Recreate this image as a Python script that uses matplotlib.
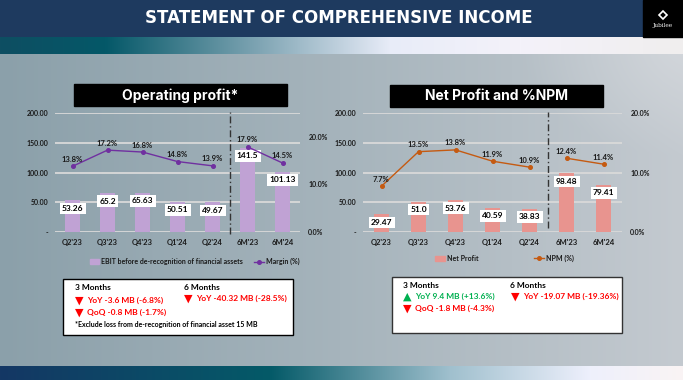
import numpy as np
import matplotlib
matplotlib.use('Agg')
import matplotlib.pyplot as plt
from matplotlib.patches import Rectangle, Patch
from matplotlib.lines import Line2D
from matplotlib.ticker import FuncFormatter

# ---------------- data ----------------
categories = ["Q2'23", "Q3'23", "Q4'23", "Q1'24", "Q2'24", "6M'23", "6M'24"]
ebit = [53.26, 65.2, 65.63, 50.51, 49.67, 141.5, 101.13]
ebit_labels = ["53.26", "65.2", "65.63", "50.51", "49.67", "141.5", "101.13"]
margin = [13.8, 17.2, 16.8, 14.8, 13.9, 17.9, 14.5]
net_profit = [29.47, 51.0, 53.76, 40.59, 38.83, 98.48, 79.41]
np_labels = ["29.47", "51.0", "53.76", "40.59", "38.83", "98.48", "79.41"]
npm = [7.7, 13.5, 13.8, 11.9, 10.9, 12.4, 11.4]
value_ticks = [0, 50, 100, 150, 200]
pct_ticks = [0, 10, 20]

left_notes_3m = ["YoY -3.6 MB (-6.8%)", "QoQ -0.8 MB (-1.7%)"]
left_notes_6m = ["YoY -40.32 MB (-28.5%)"]
right_notes_3m = ["YoY 9.4 MB (+13.6%)", "QoQ -1.8 MB (-4.3%)"]
right_notes_6m = ["YoY -19.07 MB (-19.36%)"]

plt.rcParams['font.family'] = ['Lato', 'DejaVu Sans']

W, H = 683, 380
fig = plt.figure(figsize=(W / 100, H / 100), dpi=100)

# ---------------- background ----------------
def hgrad(stops):
    xs = np.arange(W)
    pos = [s[0] for s in stops]
    out = np.zeros((W, 3))
    for c in range(3):
        out[:, c] = np.interp(xs, pos, [s[1][c] for s in stops])
    return out / 255.0

img = np.zeros((H, W, 3))
main = hgrad([(0, (139, 160, 170)), (340, (166, 180, 188)), (683, (196, 202, 208))])
img[:, :] = main
yy, xx = np.mgrid[0:H, 0:W]
glow = np.clip(1 - np.hypot((xx - 683) / 160.0, (yy - 45) / 110.0), 0, 1)[..., None]
img = img * (1 - 0.35 * glow) + 0.35 * glow * np.array([0.93, 0.93, 0.94])
img[0:37] = np.array([30, 58, 95]) / 255.0
strip = hgrad([(0, (14, 78, 98)), (105, (4, 88, 104)), (250, (120, 160, 175)),
               (390, (232, 236, 248)), (520, (244, 242, 250)), (683, (240, 238, 238))])
img[37:54] = strip
bottom = hgrad([(0, (20, 55, 100)), (270, (4, 90, 104)), (450, (160, 192, 206)),
                (590, (238, 240, 252)), (683, (250, 244, 244))])
img[366:380] = bottom

bg = fig.add_axes([0, 0, 1, 1])
bg.imshow(img, extent=(0, W, H, 0), aspect='auto', interpolation='bilinear')
bg.set_xlim(0, W)
bg.set_ylim(H, 0)
bg.set_axis_off()

# header title and logo
bg.text(339, 18, "STATEMENT OF COMPREHENSIVE INCOME", color='white', fontsize=12,
        ha='center', va='center', family=['DejaVu Sans'], fontweight='bold')
bg.add_patch(Rectangle((643, 0), 40, 37, color='black'))
bg.plot([663], [15], marker='D', ms=4, color='white', mfc='none', mew=1.2)
bg.text(663, 26, "Jubilee", color='white', fontsize=4.2, ha='center', va='center',
        family=['DejaVu Serif'])

# chart title boxes
bg.add_patch(Rectangle((74, 84), 213, 22, color='black'))
bg.text(180.5, 95.5, "Operating profit*", color='white', fontsize=10, fontweight='bold',
        ha='center', va='center', family=['Inter', 'DejaVu Sans'])
bg.add_patch(Rectangle((390, 85), 213, 22, color='black'))
bg.text(496.5, 96.5, "Net Profit and %NPM", color='white', fontsize=10, fontweight='bold',
        ha='center', va='center', family=['Inter', 'DejaVu Sans'])

# note boxes
bg.add_patch(Rectangle((63, 279), 230, 56, fc='white', ec='black', lw=1))
bg.add_patch(Rectangle((392, 277), 230, 56, fc='white', ec='#333333', lw=1))

RED = '#ff0000'
GREEN = '#00b050'
def note(x, y, sym, txt, col):
    bg.text(x - 0.5, y + 0.5, sym, color=col, fontsize=8, ha='left', va='center',
            family=['DejaVu Sans'])
    bg.text(x + 12, y, txt, color=col, fontsize=6, fontweight='bold', ha='left', va='center')

bg.text(75, 287, "3 Months", fontsize=6, fontweight='bold', color='black', va='center')
note(75, 300, "▼", left_notes_3m[0], RED)
note(75, 312, "▼", left_notes_3m[1], RED)
bg.text(184, 287, "6 Months", fontsize=6, fontweight='bold', color='black', va='center')
note(184, 298, "▼", left_notes_6m[0], RED)
bg.text(75, 325, "*Exclude loss from de-recognition of financial asset 15 MB", fontsize=5,
        fontweight='bold', color='black', va='center')

bg.text(403, 285, "3 Months", fontsize=6, fontweight='bold', color='black', va='center')
note(403, 296, "▲", right_notes_3m[0], GREEN)
note(403, 308, "▼", right_notes_3m[1], RED)
bg.text(510, 285, "6 Months", fontsize=6, fontweight='bold', color='black', va='center')
note(511, 296, "▼", right_notes_6m[0], RED)

# ---------------- charts ----------------
def make_chart(x0, x1, bars, bar_labels, pct, pct_max, bar_color, line_color,
               bar_name, line_name, leg_x, leg_y, colspace, dash_bottom):
    ax = fig.add_axes([x0 / W, 1 - 232 / H, (x1 - x0) / W, 119 / H])
    ax.set_facecolor('none')
    xs = np.arange(len(categories))
    ax.set_xlim(-0.5, len(categories) - 0.5)
    ax.set_ylim(0, 200)
    ax.set_yticks(value_ticks)
    ax.yaxis.set_major_formatter(FuncFormatter(lambda v, p: '-' if v == 0 else f'{v:.2f}'))
    ax.set_xticks(xs)
    ax.set_xticklabels(categories)
    ax.grid(axis='y', color='#d9d9d9', lw=1.3)
    ax.set_axisbelow(True)
    for s in ax.spines.values():
        s.set_visible(False)
    ax.tick_params(axis='y', length=0, labelsize=5, pad=5, labelcolor='#1a1a1a')
    ax.tick_params(axis='x', length=0, labelsize=5.5, pad=5, labelcolor='#1a1a1a')
    for lab in ax.get_xticklabels() + ax.get_yticklabels():
        lab.set_fontweight('bold')

    ax.bar(xs, bars, width=0.42, color=bar_color, zorder=2)
    for i, (v, lab) in enumerate(zip(bars, bar_labels)):
        ax.annotate(lab, (i, v), xytext=(0, -8), textcoords='offset pixels',
                    ha='center', va='center', fontsize=6, fontweight='bold', color='black',
                    bbox=dict(fc='white', ec='none', pad=1.6), zorder=4)
    ax.plot([4.5, 4.5], [dash_bottom, 201], color='#333333', lw=1,
            ls=(0, (5, 2, 1, 2)), clip_on=False, zorder=3)

    ax2 = ax.twinx()
    ax2.set_ylim(0, pct_max)
    ax2.set_yticks(pct_ticks)
    ax2.yaxis.set_major_formatter(FuncFormatter(lambda v, p: f'{v:.1f}%'))
    for s in ax2.spines.values():
        s.set_visible(False)
    ax2.tick_params(axis='y', length=0, labelsize=5, pad=6, labelcolor='#1a1a1a')
    for lab in ax2.get_yticklabels():
        lab.set_fontweight('bold')
    ax2.plot(xs[:5], pct[:5], color=line_color, lw=1, marker='o', ms=2.6)
    ax2.plot(xs[5:], pct[5:], color=line_color, lw=1, marker='o', ms=2.6)
    for i, v in enumerate(pct):
        ax2.annotate(f'{v:.1f}%', (i, v), xytext=(0, 7), textcoords='offset pixels',
                     ha='center', va='center', fontsize=5.5, fontweight='bold', color='#1a1a1a')
    handles = [Patch(color=bar_color), Line2D([], [], color=line_color, lw=1, marker='o', ms=2.6)]
    leg = ax2.legend(handles, [bar_name, line_name], loc='center', bbox_to_anchor=(leg_x, leg_y),
                     ncol=2, frameon=False, handlelength=1.4, handleheight=0.8,
                     handletextpad=0.3, columnspacing=colspace,
                     prop={'weight': 'bold', 'size': 5})
    for t in leg.get_texts():
        t.set_color('#1a1a1a')
    return ax, ax2

make_chart(55, 300, ebit, ebit_labels, margin, 25, '#c0a2d4', '#7030a0',
           "EBIT before de-recognition of financial assets", "Margin (%)",
           0.57, -0.25, 1.6, -4)
make_chart(363, 622, net_profit, np_labels, npm, 20, '#e8948f', '#c55a11',
           "Net Profit", "NPM (%)", 0.545, -0.22, 8, 7)

fig.savefig('out.png', dpi=100)
